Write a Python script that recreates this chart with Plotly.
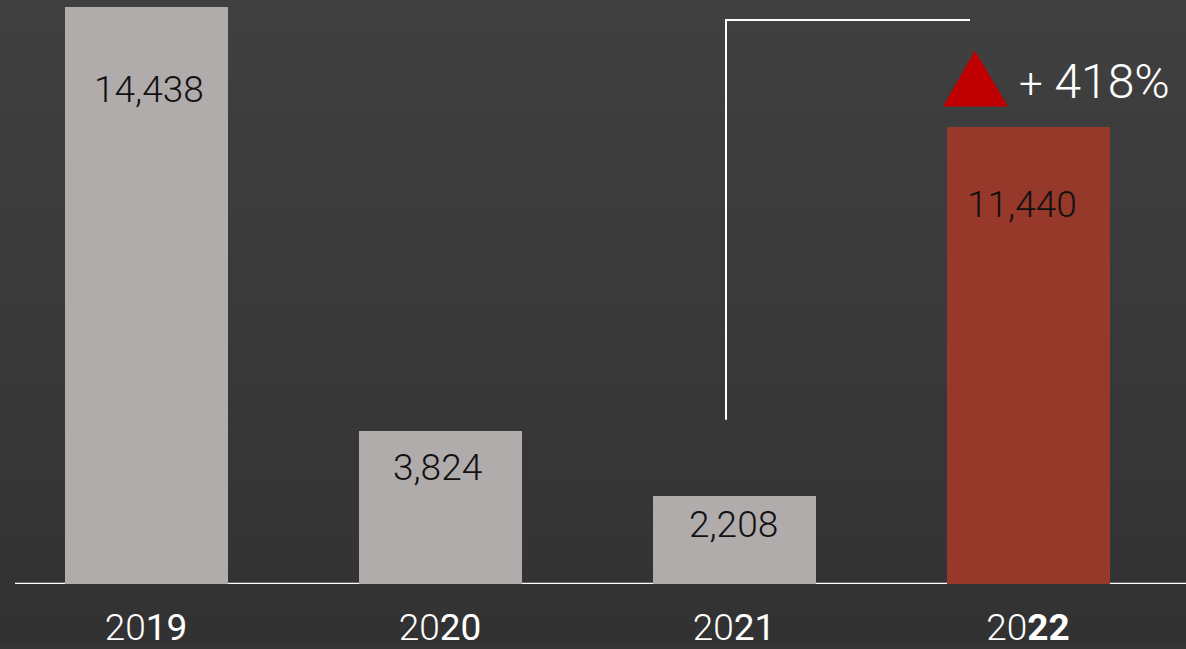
import plotly.graph_objects as go

# ---- data ----
years = ["2019", "2020", "2021", "2022"]
values = [14438, 3824, 2208, 11440]
value_labels = ["14,438", "3,824", "2,208", "11,440"]
tick_labels = [
    '20<span style="font-weight:400">19</span>',
    '20<span style="font-weight:400">20</span>',
    '20<span style="font-weight:400">21</span>',
    '20<b>22</b>',
]
change_label = '<span style="font-size:42px">+</span> 418%'

# ---- styles ----
FONT = "Roboto"
bar_colors = ["#b0acab", "#b0acab", "#b0acab", "#96382a"]
label_dy = [-83, -36, -29, -78]
label_dx = [3, -3, -1, -6]

xpos = list(range(len(years)))
W, H = 1186, 649
MB = 62
PH = H - MB
ymax = 14438 * PH / (PH - 7)
X0, DX = 146, 294  # pixel of first category centre, pixels per category

def ypx(p):
    return (PH - p) / PH * ymax

def xpx(p):
    return (p - X0) / DX

fig = go.Figure()
fig.add_trace(go.Bar(
    x=xpos, y=values, width=163 / DX,
    marker=dict(color=bar_colors, line=dict(width=0)),
    hoverinfo="skip",
))

for i, (v, t) in enumerate(zip(values, value_labels)):
    fig.add_annotation(x=xpos[i], y=v, text=t, showarrow=False,
                       xshift=label_dx[i], yshift=label_dy[i],
                       font=dict(family=FONT, size=37, color="#111111", weight=300))

shapes = []
n = 40
top_c = (0x40, 0x40, 0x40)
bot_c = (0x32, 0x32, 0x32)
y_lo = -MB / PH
for k in range(n):
    f = k / (n - 1)
    c = tuple(int(round(bot_c[j] + (top_c[j] - bot_c[j]) * f)) for j in range(3))
    y0 = y_lo + (1 - y_lo) * k / n
    y1 = y_lo + (1 - y_lo) * (k + 1) / n
    shapes.append(dict(type="rect", xref="paper", yref="paper", x0=0, x1=1, y0=y0, y1=y1 + 0.002,
                       fillcolor="rgb(%d,%d,%d)" % c, line=dict(width=0), layer="below"))

shapes.append(dict(type="line", xref="paper", yref="y", x0=15 / W, x1=1, y0=0, y1=0,
                   line=dict(color="white", width=2.5), layer="below"))
shapes.append(dict(type="path", xref="x", yref="y",
                   path=f"M {xpx(726)},{ypx(422)} L {xpx(726)},{ypx(20)} L {xpx(970)},{ypx(20)}",
                   line=dict(color="white", width=2)))
shapes.append(dict(type="path", xref="x", yref="y",
                   path=f"M {xpx(943)},{ypx(107)} L {xpx(975)},{ypx(51)} L {xpx(1008)},{ypx(107)} Z",
                   fillcolor="#c00000", line=dict(width=0)))

fig.add_annotation(x=xpx(1017), y=ypx(82), xanchor="left", yanchor="middle", text=change_label,
                   showarrow=False, font=dict(family=FONT, size=48, color="white", weight=300))

fig.update_layout(
    width=W, height=H,
    margin=dict(l=0, r=0, t=0, b=MB),
    paper_bgcolor="#353535", plot_bgcolor="rgba(0,0,0,0)",
    shapes=shapes, showlegend=False, bargap=0,
    xaxis=dict(range=[xpx(0), xpx(W)], tickmode="array", tickvals=xpos,
               ticktext=tick_labels, showgrid=False, zeroline=False, showline=False,
               ticks="", ticklabelstandoff=18,
               tickfont=dict(family=FONT, size=37, color="white", weight=300)),
    yaxis=dict(range=[0, ymax], visible=False, showgrid=False, zeroline=False),
)

fig.write_html("out.html", config={"displayModeBar": False},
               post_script="document.body.style.margin='0';document.body.style.background='#353535';")
